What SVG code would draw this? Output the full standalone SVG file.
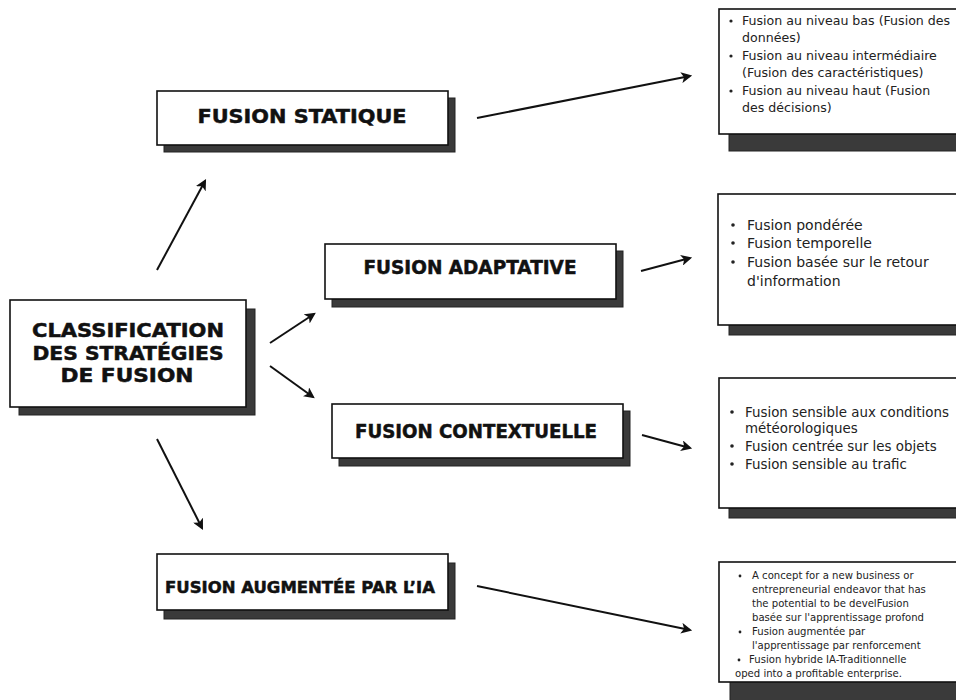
<svg xmlns="http://www.w3.org/2000/svg" width="956" height="700" viewBox="0 0 956 700">
  <defs>
    <marker id="arrow" viewBox="0 0 10 10" refX="8" refY="5" markerWidth="5.5" markerHeight="5.5" orient="auto" markerUnits="strokeWidth">
      <path d="M0,0 L10,5 L0,10 L2.5,5 z" fill="#111"/>
    </marker>
    <style>
      .box { fill: #ffffff; stroke: #111111; stroke-width: 1.6; }
      .shadow { fill: #3a3a3a; stroke: #222222; stroke-width: 1; }
      .head { font-family: "DejaVu Sans", "Liberation Sans", sans-serif; font-weight: 700; fill: #111111; stroke: #111111; stroke-width: 0.5; text-anchor: middle; }
      .body { font-family: "DejaVu Sans", "Liberation Sans", sans-serif; fill: #222222; }
      .edge { fill: none; stroke: #111111; stroke-width: 2; marker-end: url(#arrow); }
    </style>
  </defs>
  <rect width="956" height="700" fill="#ffffff"/>

  <!-- connectors -->
  <g id="connectors">
    <line class="edge" x1="157" y1="270" x2="205" y2="181"/>
    <line class="edge" x1="270" y1="343" x2="314" y2="314"/>
    <line class="edge" x1="270" y1="366" x2="313" y2="397"/>
    <line class="edge" x1="157" y1="439" x2="202" y2="528"/>
    <line class="edge" x1="477" y1="118" x2="690" y2="76"/>
    <line class="edge" x1="641" y1="271" x2="690" y2="258"/>
    <line class="edge" x1="642" y1="435" x2="690" y2="448"/>
    <line class="edge" x1="477" y1="586" x2="690" y2="630"/>
  </g>

  <!-- root node -->
  <g id="node-classification">
    <rect class="shadow" x="19" y="309" width="236" height="106"/>
    <rect class="box" x="10" y="300" width="236" height="107"/>
    <text class="head" x="128" y="337" font-size="19" textLength="192" lengthAdjust="spacingAndGlyphs">CLASSIFICATION</text>
    <text class="head" x="128" y="360" font-size="19" textLength="191" lengthAdjust="spacingAndGlyphs">DES STRATÉGIES</text>
    <text class="head" x="127" y="382" font-size="19" textLength="133" lengthAdjust="spacingAndGlyphs">DE FUSION</text>
  </g>

  <g id="node-statique">
    <rect class="shadow" x="164" y="98" width="291" height="54"/>
    <rect class="box" x="157" y="91" width="291" height="54"/>
    <text class="head" x="302" y="123" font-size="20" textLength="209" lengthAdjust="spacingAndGlyphs">FUSION STATIQUE</text>
  </g>

  <g id="node-adaptative">
    <rect class="shadow" x="332" y="251" width="291" height="56"/>
    <rect class="box" x="325" y="244" width="291" height="55"/>
    <text class="head" x="470" y="274" font-size="19" textLength="213" lengthAdjust="spacingAndGlyphs">FUSION ADAPTATIVE</text>
  </g>

  <g id="node-contextuelle">
    <rect class="shadow" x="339" y="411" width="291" height="55"/>
    <rect class="box" x="332" y="404" width="291" height="54"/>
    <text class="head" x="476" y="438" font-size="19" textLength="242" lengthAdjust="spacingAndGlyphs">FUSION CONTEXTUELLE</text>
  </g>

  <g id="node-augmentee">
    <rect class="shadow" x="164" y="563" width="291" height="56"/>
    <rect class="box" x="157" y="554" width="291" height="56"/>
    <text class="head" x="300" y="593" font-size="16" textLength="270" lengthAdjust="spacingAndGlyphs">FUSION AUGMENTÉE PAR L’IA</text>
  </g>

  <!-- detail panels -->
  <g id="panel-statique">
    <rect class="shadow" x="729" y="20" width="260" height="131"/>
    <rect class="box" x="719" y="9" width="260" height="125"/>
    <g class="body" font-size="12.6">
      <circle cx="731" cy="21" r="1.6" fill="#222"/>
      <text x="742" y="25">Fusion au niveau bas (Fusion des</text>
      <text x="742" y="42">données)</text>
      <circle cx="731" cy="56" r="1.6" fill="#222"/>
      <text x="742" y="60">Fusion au niveau intermédiaire</text>
      <text x="742" y="77">(Fusion des caractéristiques)</text>
      <circle cx="731" cy="91" r="1.6" fill="#222"/>
      <text x="742" y="95">Fusion au niveau haut (Fusion</text>
      <text x="742" y="112">des décisions)</text>
    </g>
  </g>

  <g id="panel-adaptative">
    <rect class="shadow" x="729" y="204" width="260" height="131"/>
    <rect class="box" x="718" y="194" width="260" height="131"/>
    <g class="body" font-size="14">
      <circle cx="733" cy="225" r="1.8" fill="#222"/>
      <text x="747" y="230">Fusion pondérée</text>
      <circle cx="733" cy="243" r="1.8" fill="#222"/>
      <text x="747" y="248">Fusion temporelle</text>
      <circle cx="733" cy="262" r="1.8" fill="#222"/>
      <text x="747" y="267">Fusion basée sur le retour</text>
      <text x="747" y="286">d'information</text>
    </g>
  </g>

  <g id="panel-contextuelle">
    <rect class="shadow" x="729" y="388" width="260" height="130"/>
    <rect class="box" x="719" y="378" width="260" height="130"/>
    <g class="body" font-size="13.4">
      <circle cx="732" cy="412" r="1.8" fill="#222"/>
      <text x="745" y="417">Fusion sensible aux conditions</text>
      <text x="745" y="433">météorologiques</text>
      <circle cx="732" cy="446" r="1.8" fill="#222"/>
      <text x="745" y="451">Fusion centrée sur les objets</text>
      <circle cx="732" cy="464" r="1.8" fill="#222"/>
      <text x="745" y="469">Fusion sensible au trafic</text>
    </g>
  </g>

  <g id="panel-augmentee">
    <rect class="shadow" x="730" y="572" width="260" height="140"/>
    <rect class="box" x="719" y="562" width="260" height="120"/>
    <g class="body" font-size="10.1">
      <circle cx="740" cy="576" r="1.4" fill="#222"/>
      <text x="752" y="579">A concept for a new business or</text>
      <text x="752" y="593">entrepreneurial endeavor that has</text>
      <text x="752" y="607">the potential to be develFusion</text>
      <text x="752" y="621">basée sur l'apprentissage profond</text>
      <circle cx="740" cy="632" r="1.4" fill="#222"/>
      <text x="752" y="635">Fusion augmentée par</text>
      <text x="752" y="649">l'apprentissage par renforcement</text>
      <circle cx="739" cy="660" r="1.4" fill="#222"/>
      <text x="749" y="663">Fusion hybride IA-Traditionnelle</text>
      <text x="735" y="677">oped into a profitable enterprise.</text>
    </g>
  </g>
</svg>
